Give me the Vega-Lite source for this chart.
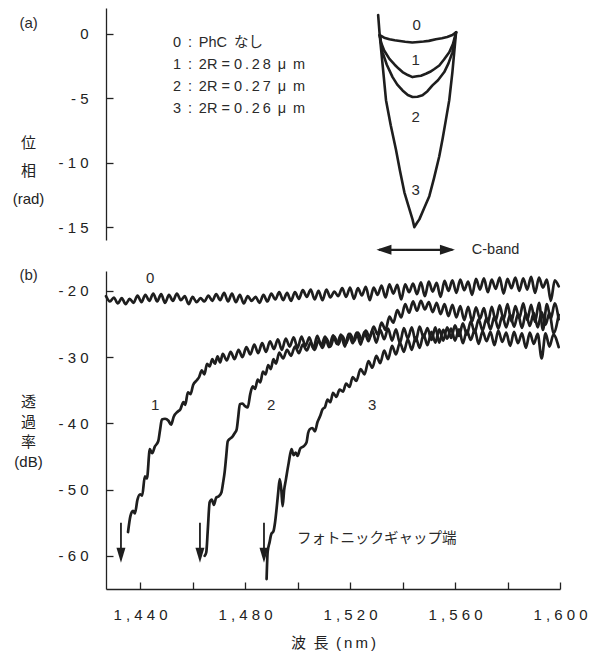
{
"$schema": "https://vega.github.io/schema/vega-lite/v6.json",
"background": "white",
"padding": {"left": 12, "top": 8, "right": 5, "bottom": 4},
"bounds": "flush",
"spacing": 31,
"config": {
  "view": {"stroke": null},
  "font": "Liberation Sans, Noto Sans CJK JP",
  "text": {"font": "Liberation Sans, Noto Sans CJK JP", "color": "#2a2a2a"},
  "axis": {"grid": false, "labelFont": "Liberation Sans, Noto Sans CJK JP", "labelFontSize": 15, "labelColor": "#222", "titleFont": "Liberation Sans, Noto Sans CJK JP", "titleFontSize": 15, "titleFontWeight": "normal", "titleColor": "#222", "domainColor": "#222", "tickColor": "#222", "domainWidth": 1.3, "tickWidth": 1.3, "ticks": true, "labelFlush": false, "labelOverlap": false}
},
"vconcat": [
{
  "width": 454, "height": 232,
  "resolve": {"axis": {"x": "independent", "y": "independent"}},
  "encoding": {
    "x": {"field": "w", "type": "quantitative", "scale": {"domain": [1427, 1600], "nice": false, "zero": false}, "axis": null},
    "y": {"field": "p", "type": "quantitative", "scale": {"domain": [-16, 2], "nice": false, "zero": false}, "axis": null}
  },
  "layer": [
    {"data": {"values": [
      {"c":"0","w":1531.3,"p":-0.1},{"c":"0","w":1533,"p":-0.3},{"c":"0","w":1535,"p":-0.42},{"c":"0","w":1537,"p":-0.5},{"c":"0","w":1539,"p":-0.56},{"c":"0","w":1541,"p":-0.62},{"c":"0","w":1543.7,"p":-0.68},{"c":"0","w":1546,"p":-0.64},{"c":"0","w":1548,"p":-0.6},{"c":"0","w":1550,"p":-0.55},{"c":"0","w":1552.7,"p":-0.42},{"c":"0","w":1555,"p":-0.34},{"c":"0","w":1557,"p":-0.25},{"c":"0","w":1559,"p":-0.1},{"c":"0","w":1560.4,"p":0.12},
      {"c":"1","w":1531.3,"p":-0.1},{"c":"1","w":1531.8,"p":-0.67},{"c":"1","w":1533,"p":-1.3},{"c":"1","w":1535,"p":-1.95},{"c":"1","w":1537,"p":-2.4},{"c":"1","w":1538.5,"p":-2.7},{"c":"1","w":1540,"p":-2.97},{"c":"1","w":1542,"p":-3.2},{"c":"1","w":1543.8,"p":-3.36},{"c":"1","w":1545.5,"p":-3.3},{"c":"1","w":1547,"p":-3.25},{"c":"1","w":1548.9,"p":-3.1},{"c":"1","w":1550.5,"p":-2.95},{"c":"1","w":1552,"p":-2.75},{"c":"1","w":1554,"p":-2.46},{"c":"1","w":1555.8,"p":-2.0},{"c":"1","w":1557.8,"p":-1.44},{"c":"1","w":1559.2,"p":-0.8},{"c":"1","w":1560.4,"p":0.12},
      {"c":"2","w":1531.3,"p":-0.1},{"c":"2","w":1532.4,"p":-1.44},{"c":"2","w":1534,"p":-2.4},{"c":"2","w":1536.2,"p":-3.36},{"c":"2","w":1538,"p":-3.95},{"c":"2","w":1540,"p":-4.4},{"c":"2","w":1542,"p":-4.75},{"c":"2","w":1543.8,"p":-4.9},{"c":"2","w":1545.7,"p":-4.88},{"c":"2","w":1547.6,"p":-4.77},{"c":"2","w":1549.5,"p":-4.45},{"c":"2","w":1551.4,"p":-4.0},{"c":"2","w":1553.5,"p":-3.6},{"c":"2","w":1555.9,"p":-2.97},{"c":"2","w":1557.5,"p":-2.3},{"c":"2","w":1559,"p":-1.44},{"c":"2","w":1560.4,"p":0.12},
      {"c":"3","w":1530.7,"p":1.46},{"c":"3","w":1531.3,"p":-0.1},{"c":"3","w":1532.5,"p":-2.6},{"c":"3","w":1533.7,"p":-5.15},{"c":"3","w":1535.5,"p":-7.1},{"c":"3","w":1537.5,"p":-9.0},{"c":"3","w":1539,"p":-10.6},{"c":"3","w":1540.7,"p":-12.3},{"c":"3","w":1542.3,"p":-13.4},{"c":"3","w":1543.8,"p":-14.4},{"c":"3","w":1544.5,"p":-15.0},{"c":"3","w":1545.4,"p":-14.7},{"c":"3","w":1546.4,"p":-14.4},{"c":"3","w":1548.3,"p":-13.5},{"c":"3","w":1550.2,"p":-12.6},{"c":"3","w":1552,"p":-11.2},{"c":"3","w":1554,"p":-9.5},{"c":"3","w":1555.3,"p":-8.1},{"c":"3","w":1556.5,"p":-6.7},{"c":"3","w":1557.8,"p":-5.15},{"c":"3","w":1559,"p":-2.97},{"c":"3","w":1560.4,"p":0.12}
    ]},
    "mark": {"type": "line", "color": "#1e1e1e", "strokeWidth": 2.6, "strokeJoin": "round", "strokeCap": "round"},
    "encoding": {
      "y": {"field": "p", "type": "quantitative", "scale": {"domain": [-16, 2], "nice": false, "zero": false},
        "axis": {"orient": "left", "values": [0, -5, -10, -15], "labelExpr": "datum.value == 0 ? '0' : datum.value == -5 ? '- 5' : datum.value == -10 ? '- 1 0' : '- 1 5'", "tickSize": 0, "labelPadding": 18, "title": ["位", "相", "(rad)"], "titleAngle": 0, "titleAlign": "center", "titleBaseline": "top", "titleX": -78, "titleY": 127, "titleLineHeight": 28}},
      "detail": {"field": "c"}}},
    {"data": {"values": [
      {"w":1452.5,"p":-0.72,"s":"0 \u2009: \u2009PhC \u2009なし"},
      {"w":1452.5,"p":-2.42,"s":"1 \u2009: \u20092R = 0\u2009.\u20092\u20098 \u2009μ \u2009m"},
      {"w":1452.5,"p":-4.13,"s":"2 \u2009: \u20092R = 0\u2009.\u20092\u20097 \u2009μ \u2009m"},
      {"w":1452.5,"p":-5.80,"s":"3 \u2009: \u20092R = 0\u2009.\u20092\u20096 \u2009μ \u2009m"}
    ]},
    "mark": {"type": "text", "align": "left", "baseline": "middle", "fontSize": 14.5},
    "encoding": {"text": {"field": "s"}}},
    {"data": {"values": [
      {"w":1545.4,"p":0.68,"s":"0"},{"w":1545,"p":-2.03,"s":"1"},{"w":1545,"p":-6.46,"s":"2"},{"w":1545,"p":-12.1,"s":"3"},{"w":1397.5,"p":0.85,"s":"(a)"}
    ]},
    "mark": {"type": "text", "align": "center", "baseline": "middle", "fontSize": 15},
    "encoding": {
      "y": {"field": "p", "type": "quantitative", "scale": {"domain": [-16, 2], "nice": false, "zero": false},
        "axis": {"orient": "right", "offset": -454, "values": [0, -5, -10, -15], "ticks": true, "tickSize": 7, "labels": false, "domain": false, "title": null}},
      "text": {"field": "s"}}}
  ]
},
{
  "width": 454, "height": 318,
  "resolve": {"axis": {"x": "independent", "y": "independent"}},
  "encoding": {
    "x": {"field": "w", "type": "quantitative", "scale": {"domain": [1427, 1600], "nice": false, "zero": false}, "axis": null},
    "y": {"field": "t", "type": "quantitative", "scale": {"domain": [-65, -17], "nice": false, "zero": false}, "axis": null}
  },
  "layer": [
    {"data": {"values": [
      {"c":"0","w":1427,"t":-20.8},{"c":"0","w":1428.5,"t":-21.6},{"c":"0","w":1430,"t":-21.0},{"c":"0","w":1431.5,"t":-21.9},{"c":"0","w":1433,"t":-21.1},{"c":"0","w":1434.5,"t":-22.0},{"c":"0","w":1436,"t":-21.2},{"c":"0","w":1437.5,"t":-21.8},{"c":"0","w":1439,"t":-20.7},{"c":"0","w":1440.5,"t":-21.7},{"c":"0","w":1442,"t":-20.6},{"c":"0","w":1443.5,"t":-21.5},{"c":"0","w":1445,"t":-20.4},{"c":"0","w":1446.5,"t":-21.6},{"c":"0","w":1448,"t":-20.5},{"c":"0","w":1449.5,"t":-21.8},{"c":"0","w":1451,"t":-20.6},{"c":"0","w":1452.5,"t":-21.5},{"c":"0","w":1454,"t":-20.4},{"c":"0","w":1455.5,"t":-21.4},{"c":"0","w":1457,"t":-20.8},{"c":"0","w":1458.5,"t":-22.0},{"c":"0","w":1460,"t":-20.9},{"c":"0","w":1461.5,"t":-21.7},{"c":"0","w":1463,"t":-21.1},{"c":"0","w":1464.5,"t":-21.6},{"c":"0","w":1466,"t":-20.7},{"c":"0","w":1467.5,"t":-21.5},{"c":"0","w":1469,"t":-20.5},{"c":"0","w":1470.5,"t":-21.4},{"c":"0","w":1472,"t":-20.3},{"c":"0","w":1473.5,"t":-21.6},{"c":"0","w":1475,"t":-20.4},{"c":"0","w":1476.5,"t":-21.7},{"c":"0","w":1478,"t":-20.6},{"c":"0","w":1479.5,"t":-21.9},{"c":"0","w":1481,"t":-20.8},{"c":"0","w":1482.5,"t":-21.5},{"c":"0","w":1484,"t":-20.9},{"c":"0","w":1485.5,"t":-21.8},{"c":"0","w":1487,"t":-20.6},{"c":"0","w":1488.5,"t":-21.6},{"c":"0","w":1490,"t":-20.4},{"c":"0","w":1491.5,"t":-21.3},{"c":"0","w":1493,"t":-20.2},{"c":"0","w":1494.5,"t":-21.4},{"c":"0","w":1496,"t":-20.3},{"c":"0","w":1497.5,"t":-21.5},{"c":"0","w":1499,"t":-20.2},{"c":"0","w":1500.5,"t":-21.2},{"c":"0","w":1502,"t":-19.9},{"c":"0","w":1503.5,"t":-20.9},{"c":"0","w":1505,"t":-19.8},{"c":"0","w":1506.5,"t":-21.3},{"c":"0","w":1508,"t":-20.0},{"c":"0","w":1509.5,"t":-21.4},{"c":"0","w":1511,"t":-19.8},{"c":"0","w":1512.5,"t":-21.0},{"c":"0","w":1514,"t":-20.1},{"c":"0","w":1515.5,"t":-20.8},{"c":"0","w":1517,"t":-19.6},{"c":"0","w":1518.5,"t":-20.9},{"c":"0","w":1520,"t":-19.5},{"c":"0","w":1521.5,"t":-21.2},{"c":"0","w":1523,"t":-19.6},{"c":"0","w":1524.5,"t":-20.7},{"c":"0","w":1526,"t":-19.4},{"c":"0","w":1527.5,"t":-21.4},{"c":"0","w":1529,"t":-19.5},{"c":"0","w":1530.5,"t":-20.6},{"c":"0","w":1532,"t":-19.2},{"c":"0","w":1533.5,"t":-21.0},{"c":"0","w":1535,"t":-19.0},{"c":"0","w":1536.5,"t":-20.4},{"c":"0","w":1538,"t":-19.1},{"c":"0","w":1539.5,"t":-21.3},{"c":"0","w":1541,"t":-19.0},{"c":"0","w":1542.5,"t":-20.2},{"c":"0","w":1544,"t":-18.9},{"c":"0","w":1545.5,"t":-20.5},{"c":"0","w":1547,"t":-18.7},{"c":"0","w":1548.5,"t":-20.8},{"c":"0","w":1550,"t":-18.6},{"c":"0","w":1551.5,"t":-20.1},{"c":"0","w":1553,"t":-18.8},{"c":"0","w":1554.5,"t":-20.9},{"c":"0","w":1556,"t":-18.5},{"c":"0","w":1557.5,"t":-20.0},{"c":"0","w":1559,"t":-18.4},{"c":"0","w":1560.5,"t":-20.3},{"c":"0","w":1562,"t":-18.3},{"c":"0","w":1563.5,"t":-19.9},{"c":"0","w":1565,"t":-18.6},{"c":"0","w":1566.5,"t":-20.6},{"c":"0","w":1568,"t":-18.2},{"c":"0","w":1569.5,"t":-19.8},{"c":"0","w":1571,"t":-18.1},{"c":"0","w":1572.5,"t":-20.2},{"c":"0","w":1574,"t":-18.3},{"c":"0","w":1575.5,"t":-19.7},{"c":"0","w":1577,"t":-18.0},{"c":"0","w":1578.5,"t":-20.4},{"c":"0","w":1580,"t":-18.2},{"c":"0","w":1581.5,"t":-19.6},{"c":"0","w":1583,"t":-18.0},{"c":"0","w":1584.5,"t":-20.0},{"c":"0","w":1586,"t":-18.1},{"c":"0","w":1587.5,"t":-19.8},{"c":"0","w":1589,"t":-17.9},{"c":"0","w":1590.5,"t":-20.3},{"c":"0","w":1592,"t":-18.0},{"c":"0","w":1593.5,"t":-19.5},{"c":"0","w":1595,"t":-18.3},{"c":"0","w":1596.5,"t":-21.5},{"c":"0","w":1598,"t":-18.4},{"c":"0","w":1599.5,"t":-19.3},
      {"c":"1","w":1435.4,"t":-56.4},{"c":"1","w":1436.3,"t":-54.0},{"c":"1","w":1437.3,"t":-53.2},{"c":"1","w":1438.0,"t":-53.6},{"c":"1","w":1439.0,"t":-51.5},{"c":"1","w":1440.0,"t":-50.7},{"c":"1","w":1440.8,"t":-50.9},{"c":"1","w":1441.8,"t":-48.0},{"c":"1","w":1442.6,"t":-48.3},{"c":"1","w":1443.7,"t":-43.9},{"c":"1","w":1444.6,"t":-44.5},{"c":"1","w":1445.6,"t":-43.5},{"c":"1","w":1446.9,"t":-42.7},{"c":"1","w":1447.6,"t":-41.0},{"c":"1","w":1448.3,"t":-39.4},{"c":"1","w":1449.5,"t":-39.3},{"c":"1","w":1450.8,"t":-39.6},{"c":"1","w":1451.8,"t":-40.2},{"c":"1","w":1452.8,"t":-39.0},{"c":"1","w":1454.4,"t":-38.2},{"c":"1","w":1455.3,"t":-37.9},{"c":"1","w":1456.5,"t":-36.8},{"c":"1","w":1457.2,"t":-37.2},{"c":"1","w":1458.2,"t":-35.3},{"c":"1","w":1459.2,"t":-35.6},{"c":"1","w":1460.2,"t":-34.2},{"c":"1","w":1461.6,"t":-33.5},{"c":"1","w":1462.5,"t":-33.0},{"c":"1","w":1463.5,"t":-32.0},{"c":"1","w":1464.5,"t":-32.6},{"c":"1","w":1465.5,"t":-31.0},{"c":"1","w":1466.5,"t":-31.4},{"c":"1","w":1467.5,"t":-30.3},{"c":"1","w":1468.5,"t":-31.0},{"c":"1","w":1469.5,"t":-29.9},{"c":"1","w":1470.5,"t":-30.8},{"c":"1","w":1471.5,"t":-29.5},{"c":"1","w":1473,"t":-30.5},{"c":"1","w":1474.5,"t":-29.2},{"c":"1","w":1476,"t":-30.3},{"c":"1","w":1477.5,"t":-28.9},{"c":"1","w":1479,"t":-30.0},{"c":"1","w":1480.5,"t":-28.5},{"c":"1","w":1482,"t":-29.6},{"c":"1","w":1483.5,"t":-28.1},{"c":"1","w":1485,"t":-29.4},{"c":"1","w":1486.5,"t":-27.9},{"c":"1","w":1488,"t":-29.2},{"c":"1","w":1489.5,"t":-27.6},{"c":"1","w":1491,"t":-28.8},{"c":"1","w":1492.5,"t":-27.3},{"c":"1","w":1494,"t":-28.9},{"c":"1","w":1495.5,"t":-27.2},{"c":"1","w":1497,"t":-28.4},{"c":"1","w":1498.5,"t":-27.0},{"c":"1","w":1500,"t":-28.6},{"c":"1","w":1501.5,"t":-26.9},{"c":"1","w":1503,"t":-28.3},{"c":"1","w":1504.5,"t":-27.0},{"c":"1","w":1506,"t":-28.7},{"c":"1","w":1507.5,"t":-26.8},{"c":"1","w":1509,"t":-28.2},{"c":"1","w":1510.5,"t":-26.9},{"c":"1","w":1512,"t":-28.5},{"c":"1","w":1513.5,"t":-26.7},{"c":"1","w":1515,"t":-28.0},{"c":"1","w":1516.5,"t":-26.6},{"c":"1","w":1518,"t":-28.4},{"c":"1","w":1519.5,"t":-26.5},{"c":"1","w":1521,"t":-27.9},{"c":"1","w":1522.5,"t":-26.3},{"c":"1","w":1524,"t":-28.1},{"c":"1","w":1525.5,"t":-26.2},{"c":"1","w":1527,"t":-27.6},{"c":"1","w":1528.5,"t":-26.0},{"c":"1","w":1530,"t":-27.8},{"c":"1","w":1531.5,"t":-25.9},{"c":"1","w":1533,"t":-27.3},{"c":"1","w":1534.5,"t":-25.7},{"c":"1","w":1536,"t":-27.5},{"c":"1","w":1537.5,"t":-25.8},{"c":"1","w":1539,"t":-27.9},{"c":"1","w":1540.5,"t":-25.6},{"c":"1","w":1542,"t":-27.2},{"c":"1","w":1543.5,"t":-25.5},{"c":"1","w":1545,"t":-27.6},{"c":"1","w":1546.5,"t":-25.4},{"c":"1","w":1548,"t":-27.0},{"c":"1","w":1549.5,"t":-25.6},{"c":"1","w":1551,"t":-27.4},{"c":"1","w":1552.5,"t":-25.5},{"c":"1","w":1554,"t":-27.8},{"c":"1","w":1555.5,"t":-25.9},{"c":"1","w":1557,"t":-27.2},{"c":"1","w":1558.5,"t":-25.7},{"c":"1","w":1560,"t":-27.5},{"c":"1","w":1561.5,"t":-25.8},{"c":"1","w":1563,"t":-27.9},{"c":"1","w":1564.5,"t":-26.0},{"c":"1","w":1566,"t":-27.4},{"c":"1","w":1567.5,"t":-25.9},{"c":"1","w":1569,"t":-28.0},{"c":"1","w":1570.5,"t":-26.1},{"c":"1","w":1572,"t":-27.6},{"c":"1","w":1573.5,"t":-26.2},{"c":"1","w":1575,"t":-28.2},{"c":"1","w":1576.5,"t":-26.0},{"c":"1","w":1578,"t":-27.7},{"c":"1","w":1579.5,"t":-26.3},{"c":"1","w":1581,"t":-28.3},{"c":"1","w":1582.5,"t":-26.2},{"c":"1","w":1584,"t":-27.9},{"c":"1","w":1585.5,"t":-26.4},{"c":"1","w":1587,"t":-28.6},{"c":"1","w":1588.5,"t":-26.3},{"c":"1","w":1590,"t":-28.0},{"c":"1","w":1591.5,"t":-26.5},{"c":"1","w":1593,"t":-30.2},{"c":"1","w":1594.5,"t":-26.4},{"c":"1","w":1596,"t":-28.4},{"c":"1","w":1597.5,"t":-26.6},{"c":"1","w":1599.5,"t":-28.5},
      {"c":"2","w":1464.6,"t":-60.0},{"c":"2","w":1465.2,"t":-59.5},{"c":"2","w":1465.8,"t":-56.0},{"c":"2","w":1466.5,"t":-51.9},{"c":"2","w":1467.3,"t":-51.5},{"c":"2","w":1468.1,"t":-52.3},{"c":"2","w":1469.0,"t":-51.2},{"c":"2","w":1470.0,"t":-51.0},{"c":"2","w":1471.0,"t":-50.4},{"c":"2","w":1471.6,"t":-49.0},{"c":"2","w":1472.2,"t":-47.4},{"c":"2","w":1472.8,"t":-45.0},{"c":"2","w":1473.4,"t":-42.7},{"c":"2","w":1474.3,"t":-42.3},{"c":"2","w":1475.2,"t":-42.0},{"c":"2","w":1476.0,"t":-41.5},{"c":"2","w":1476.8,"t":-40.9},{"c":"2","w":1477.4,"t":-39.0},{"c":"2","w":1478.0,"t":-37.1},{"c":"2","w":1479.0,"t":-37.0},{"c":"2","w":1480.0,"t":-37.4},{"c":"2","w":1481.0,"t":-37.6},{"c":"2","w":1482.0,"t":-35.5},{"c":"2","w":1482.9,"t":-34.4},{"c":"2","w":1483.8,"t":-34.8},{"c":"2","w":1484.8,"t":-33.4},{"c":"2","w":1485.8,"t":-33.8},{"c":"2","w":1486.8,"t":-32.2},{"c":"2","w":1487.8,"t":-32.6},{"c":"2","w":1488.8,"t":-31.2},{"c":"2","w":1489.8,"t":-31.8},{"c":"2","w":1490.8,"t":-30.3},{"c":"2","w":1491.8,"t":-31.0},{"c":"2","w":1493,"t":-29.3},{"c":"2","w":1494.5,"t":-30.2},{"c":"2","w":1496,"t":-28.9},{"c":"2","w":1497.5,"t":-29.8},{"c":"2","w":1499,"t":-28.4},{"c":"2","w":1500.5,"t":-29.4},{"c":"2","w":1502,"t":-28.1},{"c":"2","w":1503.5,"t":-29.0},{"c":"2","w":1505,"t":-27.8},{"c":"2","w":1506.5,"t":-28.9},{"c":"2","w":1508,"t":-27.5},{"c":"2","w":1509.5,"t":-28.6},{"c":"2","w":1511,"t":-27.2},{"c":"2","w":1512.5,"t":-28.4},{"c":"2","w":1514,"t":-26.9},{"c":"2","w":1515.5,"t":-28.1},{"c":"2","w":1517,"t":-26.8},{"c":"2","w":1518.5,"t":-27.9},{"c":"2","w":1520,"t":-26.5},{"c":"2","w":1521.5,"t":-27.6},{"c":"2","w":1523,"t":-26.3},{"c":"2","w":1524.5,"t":-27.4},{"c":"2","w":1526,"t":-26.0},{"c":"2","w":1527.5,"t":-27.0},{"c":"2","w":1529,"t":-25.4},{"c":"2","w":1530.5,"t":-26.6},{"c":"2","w":1532,"t":-24.8},{"c":"2","w":1533.5,"t":-25.9},{"c":"2","w":1535,"t":-23.9},{"c":"2","w":1536.5,"t":-24.8},{"c":"2","w":1538,"t":-22.9},{"c":"2","w":1539.5,"t":-24.0},{"c":"2","w":1541,"t":-22.0},{"c":"2","w":1542.5,"t":-23.3},{"c":"2","w":1544,"t":-21.6},{"c":"2","w":1545.5,"t":-23.0},{"c":"2","w":1547,"t":-21.5},{"c":"2","w":1548.5,"t":-22.8},{"c":"2","w":1550,"t":-21.7},{"c":"2","w":1551.5,"t":-23.2},{"c":"2","w":1553,"t":-21.8},{"c":"2","w":1554.5,"t":-23.5},{"c":"2","w":1556,"t":-22.0},{"c":"2","w":1557.5,"t":-23.8},{"c":"2","w":1559,"t":-22.1},{"c":"2","w":1560.5,"t":-24.0},{"c":"2","w":1562,"t":-22.3},{"c":"2","w":1563.5,"t":-24.4},{"c":"2","w":1565,"t":-22.4},{"c":"2","w":1566.5,"t":-24.6},{"c":"2","w":1568,"t":-22.5},{"c":"2","w":1569.5,"t":-24.2},{"c":"2","w":1571,"t":-22.6},{"c":"2","w":1572.5,"t":-24.8},{"c":"2","w":1574,"t":-22.4},{"c":"2","w":1575.5,"t":-24.5},{"c":"2","w":1577,"t":-22.2},{"c":"2","w":1578.5,"t":-24.3},{"c":"2","w":1580,"t":-22.0},{"c":"2","w":1581.5,"t":-24.6},{"c":"2","w":1583,"t":-22.3},{"c":"2","w":1584.5,"t":-24.1},{"c":"2","w":1586,"t":-21.9},{"c":"2","w":1587.5,"t":-24.4},{"c":"2","w":1589,"t":-22.1},{"c":"2","w":1590.5,"t":-24.7},{"c":"2","w":1592,"t":-21.8},{"c":"2","w":1593.5,"t":-25.9},{"c":"2","w":1595,"t":-22.0},{"c":"2","w":1596.5,"t":-24.2},{"c":"2","w":1598,"t":-21.9},{"c":"2","w":1599.5,"t":-24.3},
      {"c":"3","w":1488.2,"t":-63.5},{"c":"3","w":1488.6,"t":-59.4},{"c":"3","w":1489.3,"t":-58.0},{"c":"3","w":1490.0,"t":-56.7},{"c":"3","w":1490.8,"t":-56.3},{"c":"3","w":1491.4,"t":-55.0},{"c":"3","w":1492.0,"t":-52.9},{"c":"3","w":1492.6,"t":-50.5},{"c":"3","w":1493.2,"t":-48.4},{"c":"3","w":1493.8,"t":-50.0},{"c":"3","w":1494.3,"t":-52.5},{"c":"3","w":1494.9,"t":-50.0},{"c":"3","w":1495.5,"t":-48.6},{"c":"3","w":1496.6,"t":-46.0},{"c":"3","w":1497.7,"t":-43.9},{"c":"3","w":1498.5,"t":-44.8},{"c":"3","w":1499.3,"t":-44.4},{"c":"3","w":1500.0,"t":-44.9},{"c":"3","w":1501.0,"t":-43.8},{"c":"3","w":1502.2,"t":-43.5},{"c":"3","w":1503.4,"t":-42.9},{"c":"3","w":1504.0,"t":-41.5},{"c":"3","w":1504.6,"t":-40.9},{"c":"3","w":1505.6,"t":-40.7},{"c":"3","w":1506.6,"t":-41.2},{"c":"3","w":1507.6,"t":-39.8},{"c":"3","w":1508.6,"t":-38.9},{"c":"3","w":1509.5,"t":-37.9},{"c":"3","w":1510.5,"t":-37.5},{"c":"3","w":1511.4,"t":-36.4},{"c":"3","w":1512.5,"t":-36.8},{"c":"3","w":1513.5,"t":-35.4},{"c":"3","w":1514.8,"t":-36.0},{"c":"3","w":1516.0,"t":-34.9},{"c":"3","w":1517.3,"t":-35.2},{"c":"3","w":1518.5,"t":-34.0},{"c":"3","w":1519.8,"t":-34.5},{"c":"3","w":1521,"t":-33.0},{"c":"3","w":1522.4,"t":-33.6},{"c":"3","w":1524,"t":-31.8},{"c":"3","w":1525.5,"t":-32.6},{"c":"3","w":1527,"t":-30.6},{"c":"3","w":1528.5,"t":-31.6},{"c":"3","w":1530,"t":-29.8},{"c":"3","w":1531.5,"t":-30.9},{"c":"3","w":1533,"t":-29.0},{"c":"3","w":1534.5,"t":-30.3},{"c":"3","w":1536,"t":-28.3},{"c":"3","w":1537.5,"t":-29.6},{"c":"3","w":1539,"t":-27.8},{"c":"3","w":1540.5,"t":-29.2},{"c":"3","w":1542,"t":-27.3},{"c":"3","w":1543.5,"t":-28.9},{"c":"3","w":1545,"t":-27.0},{"c":"3","w":1546.5,"t":-28.6},{"c":"3","w":1548,"t":-26.6},{"c":"3","w":1549.5,"t":-28.2},{"c":"3","w":1551,"t":-26.2},{"c":"3","w":1552.5,"t":-27.8},{"c":"3","w":1554,"t":-25.8},{"c":"3","w":1555.5,"t":-27.5},{"c":"3","w":1557,"t":-25.5},{"c":"3","w":1558.5,"t":-27.1},{"c":"3","w":1560,"t":-25.2},{"c":"3","w":1561.5,"t":-26.8},{"c":"3","w":1563,"t":-24.9},{"c":"3","w":1564.5,"t":-26.6},{"c":"3","w":1566,"t":-24.6},{"c":"3","w":1567.5,"t":-26.3},{"c":"3","w":1569,"t":-24.3},{"c":"3","w":1570.5,"t":-26.0},{"c":"3","w":1572,"t":-24.1},{"c":"3","w":1573.5,"t":-25.8},{"c":"3","w":1575,"t":-23.9},{"c":"3","w":1576.5,"t":-25.7},{"c":"3","w":1578,"t":-23.8},{"c":"3","w":1579.5,"t":-25.5},{"c":"3","w":1581,"t":-23.6},{"c":"3","w":1582.5,"t":-25.4},{"c":"3","w":1584,"t":-23.5},{"c":"3","w":1585.5,"t":-25.6},{"c":"3","w":1587,"t":-23.4},{"c":"3","w":1588.5,"t":-25.3},{"c":"3","w":1590,"t":-23.3},{"c":"3","w":1591.5,"t":-25.5},{"c":"3","w":1593,"t":-23.2},{"c":"3","w":1594.5,"t":-25.1},{"c":"3","w":1596,"t":-23.3},{"c":"3","w":1597.5,"t":-26.4},{"c":"3","w":1599.5,"t":-23.6}
    ]},
    "mark": {"type": "line", "color": "#1e1e1e", "strokeWidth": 2.7, "strokeJoin": "round", "strokeCap": "round", "interpolate": "monotone"},
    "encoding": {
      "x": {"field": "w", "type": "quantitative", "scale": {"domain": [1427, 1600], "nice": false, "zero": false},
        "axis": {"orient": "bottom", "values": [1440, 1480, 1520, 1560, 1600], "labelExpr": "datum.value == 1440 ? '1 , 4 4 0' : datum.value == 1480 ? '1 , 4 8 0' : datum.value == 1520 ? '1 , 5 2 0' : datum.value == 1560 ? '1 , 5 6 0' : '1 , 6 0 0'", "tickSize": 0, "labelPadding": 18, "title": "波\u2002長\u2002(\u2009n\u2009m\u2009)", "titlePadding": 13}},
      "y": {"field": "t", "type": "quantitative", "scale": {"domain": [-65, -17], "nice": false, "zero": false},
        "axis": {"orient": "left", "values": [-20, -30, -40, -50, -60], "labelExpr": "'- ' + (datum.value == -20 ? '2 0' : datum.value == -30 ? '3 0' : datum.value == -40 ? '4 0' : datum.value == -50 ? '5 0' : '6 0')", "tickSize": 0, "labelPadding": 18, "title": ["透", "過", "率", "(dB)"], "titleAngle": 0, "titleAlign": "center", "titleBaseline": "top", "titleX": -78, "titleY": 123, "titleLineHeight": 20}},
      "detail": {"field": "c"}}},
    {"data": {"values": [
      {"w":1432.7,"t":-55.0,"t2":-59.0},{"w":1462.8,"t":-55.0,"t2":-59.0},{"w":1487.2,"t":-55.0,"t2":-59.0}
    ]},
    "mark": {"type": "rule", "color": "#1e1e1e", "strokeWidth": 1.8},
    "encoding": {"y2": {"field": "t2"}}},
    {"data": {"values": [
      {"w":1432.7,"t":-59.9},{"w":1462.8,"t":-59.9},{"w":1487.2,"t":-59.9}
    ]},
    "mark": {"type": "point", "shape": "M0,1L-0.6,-1L0.6,-1Z", "size": 225, "filled": true, "color": "#1e1e1e", "opacity": 1},
    "encoding": {}},
    {"data": {"values": [{"w":1531,"w2":1559,"t":-13.8}]},
    "mark": {"type": "rule", "color": "#1e1e1e", "strokeWidth": 2.2},
    "encoding": {"x2": {"field": "w2"}}},
    {"data": {"values": [{"w":1532.9,"t":-13.8}]},
    "mark": {"type": "point", "shape": "M-1,0L1,-0.67L1,0.67Z", "size": 225, "filled": true, "color": "#1e1e1e", "opacity": 1},
    "encoding": {}},
    {"data": {"values": [{"w":1557.1,"t":-13.8}]},
    "mark": {"type": "point", "shape": "M1,0L-1,-0.67L-1,0.67Z", "size": 225, "filled": true, "color": "#1e1e1e", "opacity": 1},
    "encoding": {}},
    {"data": {"values": [
      {"w":1443.8,"t":-18.1,"s":"0"},{"w":1445.7,"t":-37.2,"s":"1"},{"w":1489.9,"t":-37.2,"s":"2"},{"w":1528.4,"t":-37.2,"s":"3"},{"w":1397.5,"t":-17.6,"s":"(b)"}
    ]},
    "mark": {"type": "text", "align": "center", "baseline": "middle", "fontSize": 15},
    "encoding": {
      "x": {"field": "w", "type": "quantitative", "scale": {"domain": [1427, 1600], "nice": false, "zero": false},
        "axis": {"orient": "top", "offset": -318, "values": [1440, 1460, 1480, 1500, 1520, 1540, 1560, 1580, 1600], "ticks": true, "tickSize": 7, "labels": false, "domain": false, "title": null}},
      "y": {"field": "t", "type": "quantitative", "scale": {"domain": [-65, -17], "nice": false, "zero": false},
        "axis": {"orient": "right", "offset": -454, "values": [-20, -30, -40, -50, -60], "ticks": true, "tickSize": 7, "labels": false, "domain": false, "title": null}},
      "text": {"field": "s"}}},
    {"data": {"values": [
      {"w":1499.8,"t":-57.45,"s":"フォトニックギャップ端"},{"w":1566.4,"t":-13.8,"s":"C-band"}
    ]},
    "mark": {"type": "text", "align": "left", "baseline": "middle", "fontSize": 14.5},
    "encoding": {"text": {"field": "s"}}}
  ]
}
]
}
